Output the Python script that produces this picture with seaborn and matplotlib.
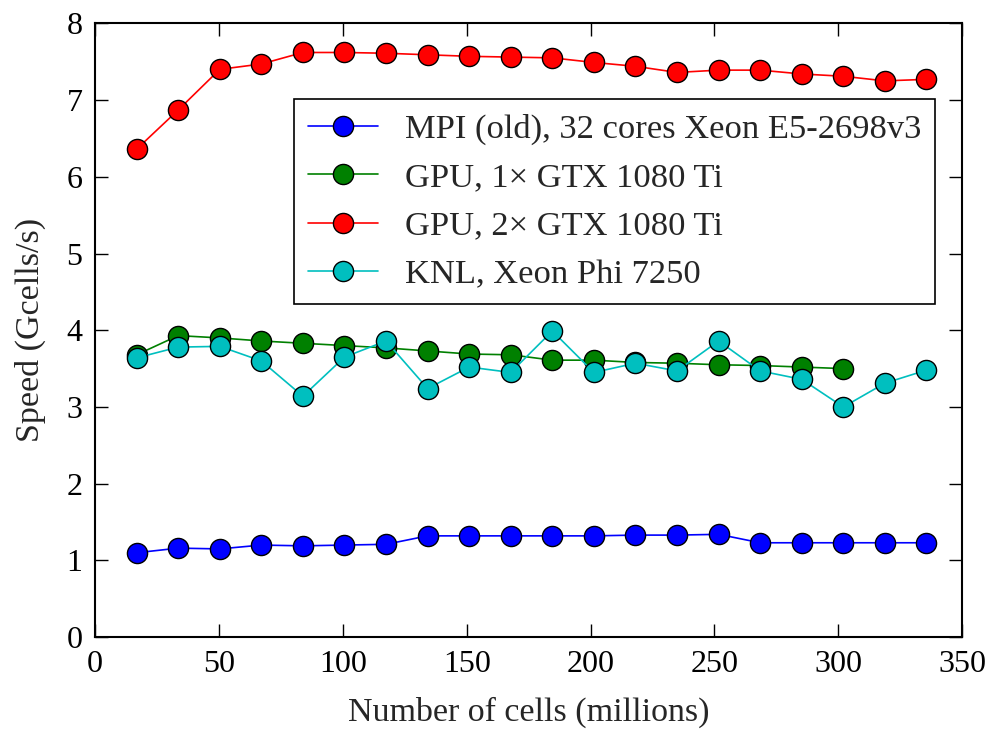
import matplotlib
matplotlib.use("Agg")
import matplotlib.pyplot as plt
import seaborn as sns
import numpy as np

# cells in millions (k * 256^3 / 1e6)
cells = [16.78, 33.55, 50.33, 67.11, 83.89, 100.66, 117.44, 134.22, 151.0, 167.77,
         184.55, 201.33, 218.1, 234.88, 251.66, 268.44, 285.21, 301.99, 318.77, 335.54]

mpi = [1.10, 1.16, 1.15, 1.20, 1.19, 1.20, 1.21, 1.32, 1.32, 1.32,
       1.32, 1.32, 1.33, 1.33, 1.34, 1.23, 1.23, 1.23, 1.23, 1.23]
gpu1 = [3.68, 3.93, 3.90, 3.86, 3.83, 3.80, 3.77, 3.73, 3.69, 3.68,
        3.61, 3.61, 3.58, 3.57, 3.55, 3.54, 3.52, 3.50]
gpu2 = [6.36, 6.87, 7.40, 7.47, 7.62, 7.62, 7.61, 7.59, 7.57, 7.56,
        7.55, 7.49, 7.44, 7.36, 7.39, 7.39, 7.34, 7.31, 7.25, 7.27]
knl = [3.64, 3.78, 3.79, 3.60, 3.14, 3.65, 3.86, 3.24, 3.52, 3.45,
       3.99, 3.45, 3.57, 3.47, 3.86, 3.47, 3.36, 3.00, 3.31, 3.48]

labels = ["MPI (old), 32 cores Xeon E5-2698v3",
          "GPU, 1\u00d7 GTX 1080 Ti",
          "GPU, 2\u00d7 GTX 1080 Ti",
          "KNL, Xeon Phi 7250"]
colors = ["#0000ff", "#008000", "#ff0000", "#00bfbf"]

sns.set_style("ticks")
plt.rcParams.update({
    "font.family": ["Liberation Serif", "DejaVu Serif"],
    "xtick.direction": "in", "ytick.direction": "in",
    "xtick.top": True, "ytick.right": True,
    "xtick.major.size": 9.5, "ytick.major.size": 9.5,
    "xtick.major.width": 1.0, "ytick.major.width": 1.0,
    "axes.linewidth": 1.5,
    "axes.edgecolor": "black",
    "xtick.color": "black", "ytick.color": "black",
})

fig = plt.figure(figsize=(9.9, 7.29), dpi=100)
ax = fig.add_axes([0.096, 0.126, 0.876, 0.842])

series = [(cells, mpi), (cells[:len(gpu1)], gpu1), (cells, gpu2), (cells, knl)]
for (xs, ys), lab, col in zip(series, labels, colors):
    sns.lineplot(x=xs, y=ys, ax=ax, color=col, marker="o", markersize=14.5,
                 markeredgecolor="black", markeredgewidth=1.0, linewidth=1.2,
                 label=lab, sort=False, estimator=None)

ax.set_xlim(0, 350)
ax.set_ylim(0, 8)
ax.set_xticks(np.arange(0, 351, 50))
ax.set_yticks(np.arange(0, 9, 1))
ax.tick_params(labelsize=23, pad=9)
ax.set_xlabel("Number of cells (millions)", fontsize=24.5, labelpad=13)
ax.set_ylabel("Speed (Gcells/s)", fontsize=24.5, labelpad=15)

leg = ax.legend(loc="upper left", bbox_to_anchor=(0.229, 0.876), borderaxespad=0,
                fontsize=24.8, frameon=True, fancybox=False, edgecolor="black",
                framealpha=1, handlelength=2.04, borderpad=0.41,
                labelspacing=0.5, handletextpad=0.78)
leg.get_frame().set_linewidth(1.2)

fig.savefig("out.png", dpi=100)
